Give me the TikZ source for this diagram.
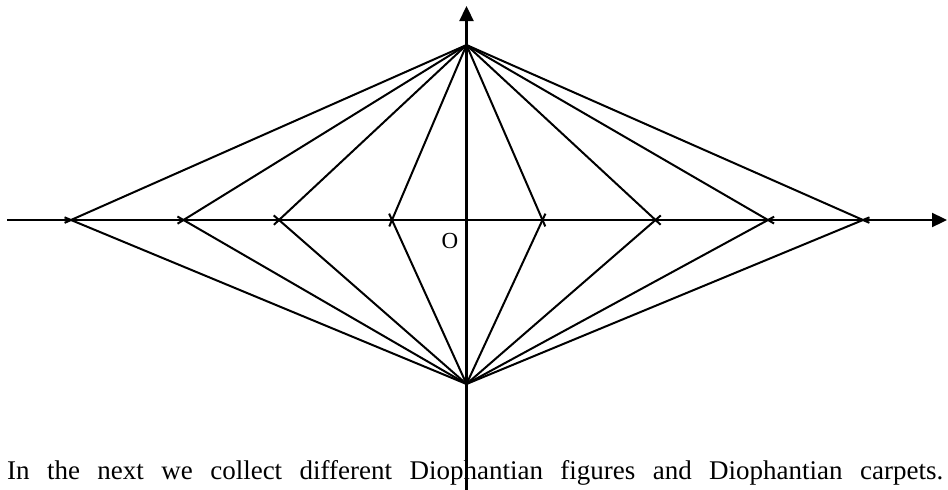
\documentclass[tikz,border=0pt]{standalone}
\usepackage{fontspec}
\setmainfont{Liberation Serif}
\usetikzlibrary{arrows.meta}
\begin{document}
\begin{tikzpicture}[x=1pt,y=-1pt,
  ln/.style={line width=2pt, line cap=butt, shorten >=-7pt},
  axis/.style={line width=2.3pt, -{Triangle[length=15pt,width=14pt]}},
  lbl/.style={inner sep=0pt, font=\fontsize{27}{31}\selectfont}]
\useasboundingbox (0,0) rectangle (948,490);
\coordinate (T) at (466.5,45);
\coordinate (B) at (466.5,384);
\coordinate (L1) at (71,220);
\coordinate (L2) at (183.5,220);
\coordinate (L3) at (279,220);
\coordinate (L4) at (392,220);
\coordinate (R1) at (542.5,220);
\coordinate (R2) at (655.5,220);
\coordinate (R3) at (768,220);
\coordinate (R4) at (863,220);
\coordinate (xs) at (7,220);
\coordinate (xe) at (947,220);
\coordinate (ys) at (466.5,490);
\coordinate (ye) at (466.5,6);
\node[lbl, anchor=base west] (txt) at (7,479) {\makebox[936pt][s]{In the next we collect different Diophantian figures and Diophantian carpets.}};
\node[lbl, font=\fontsize{23}{27}\selectfont] (O) at (450,241) {O};
\foreach \p in {L1,L2,L3,L4,R1,R2,R3,R4}{
  \draw[ln] (T) -- (\p);
  \draw[ln] (B) -- (\p);
}
\draw[axis] (xs) -- (xe);
\draw[axis] (ys) -- (ye);
\end{tikzpicture}
\end{document}
